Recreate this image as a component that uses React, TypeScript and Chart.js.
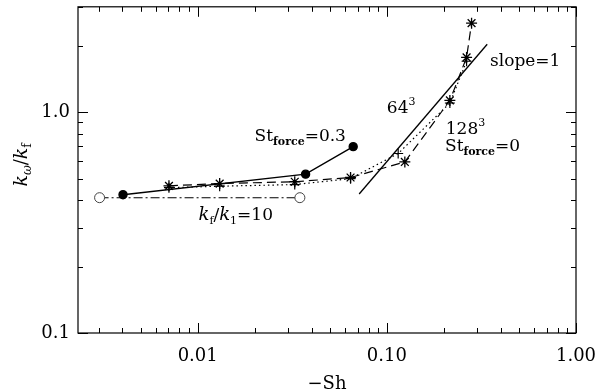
import { useEffect, useRef } from "react";
import { Chart, registerables } from "chart.js";

Chart.register(...registerables);

// ---------- data ----------
const stforce03X = [0.00403, 0.0372, 0.0664];
const stforce03Y = [0.423, 0.524, 0.698];

const kf10X = [0.00303, 0.0347];
const kf10Y = [0.41, 0.41];

const res128X = [0.00705, 0.01307, 0.0326, 0.0643, 0.1245, 0.2154, 0.264, 0.2805];
const res128Y = [0.464, 0.475, 0.484, 0.506, 0.595, 1.13, 1.77, 2.53];

const res64X = [0.00705, 0.01307, 0.0326, 0.0643, 0.1148, 0.2154, 0.264];
const res64Y = [0.455, 0.462, 0.47, 0.5, 0.65, 1.1, 1.7];

const slopeX = [0.0714, 0.3393];
const slopeY = [0.426, 2.03];

const xMajorTicks = [0.01, 0.1, 1];
const xTickLabels = ["0.01", "0.10", "1.00"];
const yMajorTicks = [0.1, 1];
const yTickLabels = ["0.1", "1.0"];
const xMinorTicks = [0.003, 0.004, 0.005, 0.006, 0.007, 0.008, 0.009, 0.02, 0.03, 0.04, 0.05, 0.06, 0.07, 0.08, 0.09, 0.2, 0.3, 0.4, 0.5, 0.6, 0.7, 0.8, 0.9];
const yMinorTicks = [0.2, 0.3, 0.4, 0.5, 0.6, 0.7, 0.8, 0.9, 2, 3];

const X_MIN = 0.00233;
const X_MAX = 1.0;
const Y_MIN = 0.1;
const Y_MAX = 3.0;

const FAMILY = "'DejaVu Serif', serif";

type Seg = { t: string; size: number; dy?: number; style?: string; weight?: string };
type Annot = { x: number; y: number; segs: Seg[] };

const annotations: Annot[] = [
  {
    x: 0.02, y: 0.74,
    segs: [
      { t: "St", size: 17 },
      { t: "force", size: 11, dy: 4, weight: "bold" },
      { t: "=0.3", size: 17 },
    ],
  },
  { x: 0.1, y: 0.99, segs: [{ t: "64", size: 17 }, { t: "3", size: 11, dy: -8 }] },
  { x: 0.205, y: 0.796, segs: [{ t: "128", size: 17 }, { t: "3", size: 11, dy: -8 }] },
  {
    x: 0.203, y: 0.667,
    segs: [
      { t: "St", size: 17 },
      { t: "force", size: 11, dy: 4, weight: "bold" },
      { t: "=0", size: 17 },
    ],
  },
  { x: 0.351, y: 1.61, segs: [{ t: "slope=1", size: 17 }] },
  {
    x: 0.0101, y: 0.326,
    segs: [
      { t: "k", size: 18, style: "italic" },
      { t: "f", size: 11, dy: 4 },
      { t: "/", size: 17 },
      { t: "k", size: 18, style: "italic" },
      { t: "1", size: 11, dy: 4 },
      { t: "=10", size: 17 },
    ],
  },
];

const yTitleSegs: Seg[] = [
  { t: "k", size: 19, style: "italic" },
  { t: "ω", size: 12, dy: 4, style: "italic" },
  { t: "/", size: 18 },
  { t: "k", size: 19, style: "italic" },
  { t: "f", size: 12, dy: 4 },
];
const xTitle = "−Sh";

function fontOf(s: Seg) {
  return `${s.style || "normal"} ${s.weight || "normal"} ${s.size}px ${FAMILY}`;
}
function measureRich(ctx: CanvasRenderingContext2D, segs: Seg[]) {
  let w = 0;
  for (const s of segs) {
    ctx.font = fontOf(s);
    w += ctx.measureText(s.t).width;
  }
  return w;
}
function drawRich(ctx: CanvasRenderingContext2D, x: number, y: number, segs: Seg[]) {
  let cx = x;
  for (const s of segs) {
    ctx.font = fontOf(s);
    ctx.fillText(s.t, cx, y + (s.dy || 0));
    cx += ctx.measureText(s.t).width;
  }
}

const pts = (xs: number[], ys: number[]) => xs.map((x, i) => ({ x, y: ys[i] }));

const framePlugin = {
  id: "frameTicks",
  afterDraw(chart: any) {
    const ctx: CanvasRenderingContext2D = chart.ctx;
    const { left, right, top, bottom } = chart.chartArea;
    const xs = chart.scales.x;
    const ys = chart.scales.y;
    ctx.save();
    ctx.strokeStyle = "#000";
    ctx.lineWidth = 1.2;
    ctx.strokeRect(left, top, right - left, bottom - top);
    ctx.lineWidth = 1;
    const major = 10;
    const minor = 5;
    ctx.beginPath();
    const xt = (v: number, len: number) => {
      const p = Math.round(xs.getPixelForValue(v)) + 0.5;
      ctx.moveTo(p, bottom);
      ctx.lineTo(p, bottom - len);
      ctx.moveTo(p, top);
      ctx.lineTo(p, top + len);
    };
    const yt = (v: number, len: number) => {
      const p = Math.round(ys.getPixelForValue(v)) + 0.5;
      ctx.moveTo(left, p);
      ctx.lineTo(left + len, p);
      ctx.moveTo(right, p);
      ctx.lineTo(right - len, p);
    };
    xMajorTicks.forEach((v) => xt(v, major));
    xMinorTicks.forEach((v) => xt(v, minor));
    yMajorTicks.forEach((v) => yt(v, major));
    yMinorTicks.forEach((v) => yt(v, minor));
    ctx.stroke();

    ctx.fillStyle = "#000";

    // tick labels
    ctx.font = `18px ${FAMILY}`;
    ctx.textBaseline = "middle";
    ctx.textAlign = "center";
    xMajorTicks.forEach((v, i) => {
      ctx.fillText(xTickLabels[i], xs.getPixelForValue(v), bottom + 23);
    });
    ctx.textAlign = "right";
    yMajorTicks.forEach((v, i) => {
      ctx.fillText(yTickLabels[i], left - 8, ys.getPixelForValue(v));
    });

    // annotations
    ctx.textBaseline = "alphabetic";
    ctx.textAlign = "left";
    for (const a of annotations) {
      drawRich(ctx, xs.getPixelForValue(a.x), ys.getPixelForValue(a.y), a.segs);
    }

    // x title
    ctx.font = `18px ${FAMILY}`;
    ctx.textAlign = "center";
    ctx.fillText(xTitle, (left + right) / 2, 389);

    // y title (rotated)
    ctx.textAlign = "left";
    const w = measureRich(ctx, yTitleSegs);
    ctx.translate(27, (top + bottom) / 2 - 5);
    ctx.rotate(-Math.PI / 2);
    drawRich(ctx, -w / 2, 0, yTitleSegs);
    ctx.restore();
  },
};

export default function App() {
  const ref = useRef<HTMLCanvasElement | null>(null);
  useEffect(() => {
    document.body.style.margin = "0";
    if (!ref.current) return;
    const chart = new Chart(ref.current, {
      type: "scatter",
      data: {
        datasets: [
          {
            label: "kf/k1=10",
            data: pts(kf10X, kf10Y),
            showLine: true,
            borderColor: "#000",
            borderWidth: 1.1,
            borderDash: [9, 3, 2, 3],
            pointStyle: "circle",
            pointRadius: 5,
            pointBackgroundColor: "#fff",
            pointBorderColor: "#444",
            pointBorderWidth: 1,
          },
          {
            label: "64^3",
            data: pts(res64X, res64Y),
            showLine: true,
            borderColor: "#000",
            borderWidth: 1.2,
            borderDash: [1.5, 3],
            pointStyle: "cross",
            pointRadius: 5,
            pointBorderColor: "#000",
            pointBorderWidth: 1.2,
          },
          {
            label: "128^3",
            data: pts(res128X, res128Y),
            showLine: true,
            borderColor: "#000",
            borderWidth: 1.2,
            borderDash: [9, 5],
            pointStyle: "star",
            pointRadius: 5.5,
            pointBorderColor: "#000",
            pointBorderWidth: 1.3,
          },
          {
            label: "St=0.3",
            data: pts(stforce03X, stforce03Y),
            showLine: true,
            borderColor: "#000",
            borderWidth: 1.4,
            pointStyle: "circle",
            pointRadius: 4,
            pointBackgroundColor: "#000",
            pointBorderColor: "#000",
          },
          {
            label: "slope=1",
            data: pts(slopeX, slopeY),
            showLine: true,
            borderColor: "#000",
            borderWidth: 1.3,
            pointRadius: 0,
          },
        ],
      },
      options: {
        responsive: false,
        animation: false,
        layout: { padding: { top: 5, right: 24, left: 0, bottom: 0 } },
        plugins: { legend: { display: false }, tooltip: { enabled: false } },
        scales: {
          x: {
            type: "logarithmic",
            min: X_MIN,
            max: X_MAX,
            grid: { display: false, drawTicks: false },
            border: { display: false },
            ticks: { display: false },
            afterFit: (s: any) => {
              s.height = 59;
            },
          },
          y: {
            type: "logarithmic",
            min: Y_MIN,
            max: Y_MAX,
            grid: { display: false, drawTicks: false },
            border: { display: false },
            ticks: { display: false },
            afterFit: (s: any) => {
              s.width = 78;
            },
          },
        },
      },
      plugins: [framePlugin],
    });
    return () => chart.destroy();
  }, []);
  return (
    <div style={{ width: 600, height: 392 }}>
      <canvas ref={ref} width={600} height={392} />
    </div>
  );
}
